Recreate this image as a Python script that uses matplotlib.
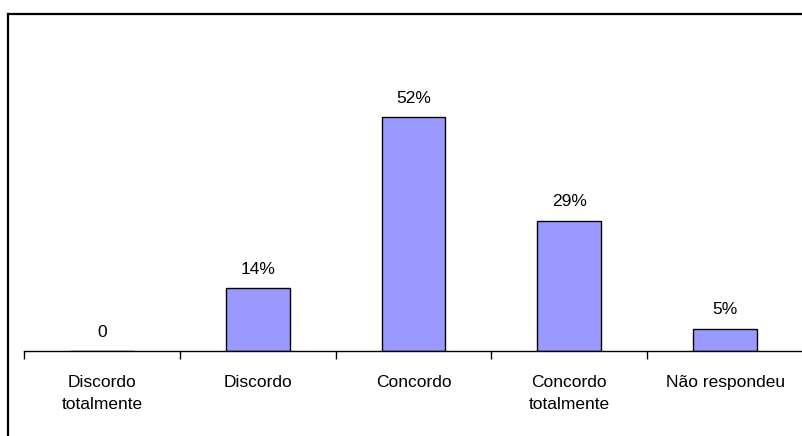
import matplotlib
matplotlib.use('Agg')
import matplotlib.pyplot as plt
from matplotlib.lines import Line2D

categorias = ["Discordo\ntotalmente", "Discordo", "Concordo", "Concordo\ntotalmente", "Não respondeu"]
valores = [0, 14, 52, 29, 5]
rotulos = ["0", "14%", "52%", "29%", "5%"]

plt.rcParams['font.family'] = ['Liberation Sans', 'DejaVu Sans']

fig = plt.figure(figsize=(8.03, 4.36), dpi=100)
ax = fig.add_axes([24/803, 85/436, 1 - 24/803, 270/436])

x = list(range(len(valores)))
ax.bar(x, valores, width=0.41, color='#9999FF', edgecolor='black', linewidth=1)

for xi, v, r in zip(x, valores, rotulos):
    ax.annotate(r, (xi, v), xytext=(0, 19), textcoords='offset pixels',
                ha='center', va='center', fontsize=12.5)

ax.set_xlim(-0.5, 4.5)
ax.set_ylim(0, 60)
ax.set_yticks([])
for s in ['top', 'right', 'left']:
    ax.spines[s].set_visible(False)
ax.spines['bottom'].set_linewidth(1)

ax.set_xticks(x)
ax.set_xticklabels(categorias, fontsize=12.5, linespacing=1.6)
ax.tick_params(axis='x', which='major', length=0, pad=17)
ax.set_xticks([i - 0.5 for i in range(len(valores) + 1)], minor=True)
ax.tick_params(axis='x', which='minor', length=6, width=1, direction='out')

# moldura
fig.add_artist(Line2D([8/803, 8/803], [0, 1 - 14/436], color='black', lw=1.6,
                      transform=fig.transFigure))
fig.add_artist(Line2D([8/803, 1], [1 - 14/436, 1 - 14/436], color='black', lw=1.6,
                      transform=fig.transFigure))

fig.savefig("out.png", dpi=100)
